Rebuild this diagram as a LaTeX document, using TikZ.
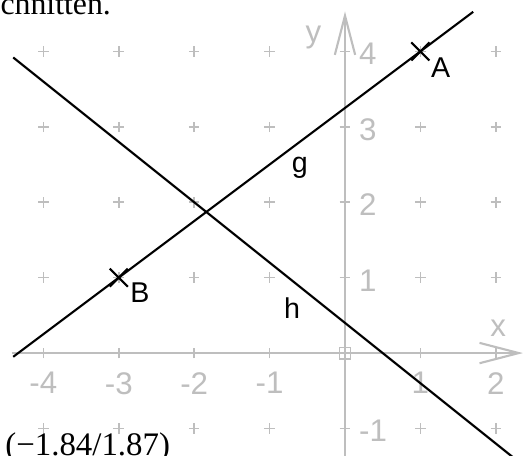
\documentclass[tikz,border=0pt]{standalone}
\usepackage{fontspec}
\setmainfont{Liberation Serif}
\setsansfont{Liberation Sans}
\usetikzlibrary{arrows.meta}
\definecolor{axisgray}{RGB}{190,190,190}

\begin{document}
\begin{tikzpicture}
\tikzstyle{achse} = [axisgray, line width=0.8pt, -{Straight Barb[length=5.2mm,width=2.7mm]}]
\tikzstyle{gitter} = [axisgray, line width=0.6pt]
\tikzstyle{zahl} = [text=axisgray, font=\sffamily\fontsize{11.8}{13}\selectfont, inner sep=0pt]
\tikzstyle{gerade} = [black, line width=0.8pt]
\tikzstyle{beschrift} = [black, font=\sffamily\fontsize{10.8}{12}\selectfont, inner sep=0pt]

\useasboundingbox (-4.575,-1.353) rectangle (2.387,4.682);
\clip (-4.575,-1.353) rectangle (2.387,4.682);

% Gitter
\foreach \x in {-4,...,2}
  \foreach \y in {-1,...,4} {
    \ifnum\x=0 \else \ifnum\y=0 \else
      \draw[gitter] (\x-0.07,\y) -- (\x+0.07,\y) (\x,\y-0.07) -- (\x,\y+0.07);
    \fi\fi
  }

% Achsen
\coordinate (xanf) at (-4.42,0);
\coordinate (xend) at (2.36,0);
\coordinate (yanf) at (0,-1.4);
\coordinate (yend) at (0,4.53);
\draw[achse] (xanf) -- (xend);
\draw[achse] (yanf) -- (yend);

\foreach \x in {-4,-3,-2,-1,1,2} {
  \draw[gitter] (\x,-0.07) -- (\x,0.07);
  \node[zahl, anchor=north] (xl\x) at (\x,-0.25) {\x};
}
\foreach \y in {-1,1,2,3,4} {
  \draw[gitter] (-0.07,\y) -- (0.07,\y);
  \node[zahl, anchor=west] (yl\y) at (0.18,\y-0.035) {\y};
}
\draw[gitter] (-0.075,-0.075) rectangle (0.075,0.075);
\node[zahl, anchor=north] (xlab) at (2.03,0.44) {x};
\node[zahl, anchor=north] (ylab) at (-0.42,4.35) {y};

% Geraden g und h
\coordinate (A) at (1,4);
\coordinate (B) at (-3,1);
\coordinate (gl) at (-4.4,-0.05);
\coordinate (gr) at (1.7,4.525);
\coordinate (hl) at (-4.4,3.92);
\coordinate (hr) at (2.3,-1.44);
\draw[gerade] (gl) -- (gr);
\draw[gerade] (hl) -- (hr);
\foreach \p in {A,B}
  \draw[gerade] ([shift={(-0.12,0.12)}]\p) -- ([shift={(0.12,-0.12)}]\p)
                ([shift={(-0.12,-0.12)}]\p) -- ([shift={(0.12,0.12)}]\p);

\node[beschrift] (Alab) at (1.27,3.78) {A};
\node[beschrift] (Blab) at (-2.72,0.80) {B};
\node[beschrift, anchor=north] (glab) at (-0.60,2.60) {g};
\node[beschrift] (hlab) at (-0.70,0.60) {h};

% Text
\node[anchor=base west, inner sep=0pt, font=\fontsize{12}{14}\selectfont] (kopf) at (-4.575,4.483) {chnitten.};
\node[anchor=base west, inner sep=0pt, font=\fontsize{12.4}{14}\selectfont] (schnitt) at (-4.51,-1.36) {(−1.84/1.87)};
\end{tikzpicture}
\end{document}
